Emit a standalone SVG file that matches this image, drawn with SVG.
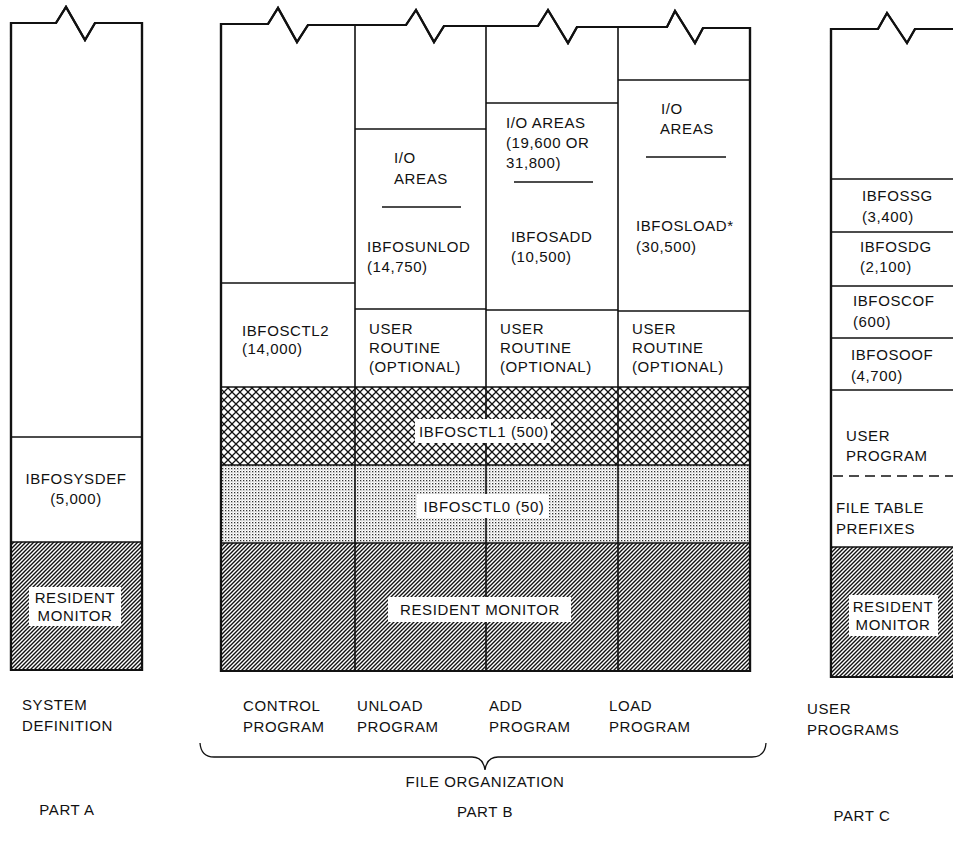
<svg xmlns="http://www.w3.org/2000/svg" width="953" height="844" viewBox="0 0 953 844">
<defs>
<pattern id="hatch" patternUnits="userSpaceOnUse" width="4" height="4">
<rect width="4" height="4" fill="#fff"/>
<path d="M-1,5 L5,-1 M-3,3 L3,-3 M1,7 L7,1" stroke="#111" stroke-width="1.4"/>
</pattern>
<pattern id="cross" patternUnits="userSpaceOnUse" width="8" height="8">
<rect width="8" height="8" fill="#fff"/>
<path d="M-1,-1 L9,9 M9,-1 L-1,9" stroke="#111" stroke-width="1.3"/>
</pattern>
<pattern id="dots" patternUnits="userSpaceOnUse" width="3" height="3">
<rect width="3" height="3" fill="#fff"/>
<rect x="0" y="0" width="1.3" height="1.3" fill="#333"/>
<rect x="1.5" y="1.5" width="0.9" height="0.9" fill="#888"/>
</pattern>
</defs>
<style>
text{font-family:"Liberation Sans",Arial,sans-serif;font-size:15px;fill:#111;letter-spacing:0.6px}
.m{text-anchor:middle}
.frame{fill:#fff;stroke:#111;stroke-width:2.2;stroke-linejoin:miter}
.ln{stroke:#111;stroke-width:1.6;fill:none}
.thin{stroke:#111;stroke-width:1.3;fill:none}
.lbl{fill:#fff;stroke:none}
.h{fill:url(#hatch)}
.c{fill:url(#cross)}
.d{fill:url(#dots)}
</style>
<rect width="953" height="844" fill="#fff"/>

<!-- PART A -->
<g id="partA">
<path class="frame" d="M11,23 L56,23 L66,7 L85,40 L95,23 L142,23 L142,670 L11,670 Z"/>
<g id="a-sysdef">
<line class="ln" x1="11" y1="437" x2="142" y2="437"/>
<text class="m" x="76" y="484">IBFOSYSDEF</text>
<text class="m" x="76" y="504">(5,000)</text>
</g>
<g id="a-monitor">
<rect class="h" x="12" y="542" width="129" height="127"/>
<line class="ln" x1="11" y1="542" x2="142" y2="542"/>
<rect class="lbl" x="29" y="587" width="92" height="39"/>
<text class="m" x="75" y="603">RESIDENT</text>
<text class="m" x="75" y="621">MONITOR</text>
</g>
<path class="frame" style="fill:none" d="M11,23 L56,23 L66,7 L85,40 L95,23 L142,23 L142,670 L11,670 Z"/>
</g>

<!-- PART B -->
<g id="partB">
<path class="frame" d="M221,24 L268,24 L278,8 L297,42 L308,25 L406,25 L416,10 L434,42 L444,26 L538,26 L548,10 L568,43 L577,27 L667,27 L675,11 L695,43 L703,28 L750,28 L750,671 L221,671 Z"/>
<g id="b-ctl1">
<rect class="c" x="222" y="387" width="527" height="78"/>
</g>
<g id="b-ctl0">
<rect class="d" x="222" y="465" width="527" height="78"/>
</g>
<g id="b-monitor">
<rect class="h" x="222" y="543" width="527" height="127"/>
</g>
<line class="ln" x1="221" y1="387" x2="750" y2="387"/>
<line class="ln" x1="221" y1="465" x2="750" y2="465"/>
<line class="ln" x1="221" y1="543" x2="750" y2="543"/>
<line class="ln" x1="355" y1="25" x2="355" y2="671"/>
<line class="ln" x1="486" y1="26" x2="486" y2="671"/>
<line class="ln" x1="618" y1="27" x2="618" y2="671"/>

<g id="b-ctl1-label">
<rect class="lbl" x="415" y="419" width="136" height="24"/>
<text class="m" x="484" y="437">IBFOSCTL1 (500)</text>
</g>
<g id="b-ctl0-label">
<rect class="lbl" x="417" y="494" width="132" height="24"/>
<text class="m" x="484" y="512">IBFOSCTL0 (50)</text>
</g>
<g id="b-monitor-label">
<rect class="lbl" x="388" y="597" width="183" height="25"/>
<text class="m" x="480" y="615">RESIDENT MONITOR</text>
</g>

<g id="b-ctl2">
<line class="ln" x1="221" y1="283" x2="355" y2="283"/>
<text x="242" y="336">IBFOSCTL2</text>
<text x="242" y="354">(14,000)</text>
</g>

<g id="b-unload-io">
<line class="ln" x1="355" y1="129" x2="486" y2="129"/>
<text x="394" y="163">I/O</text>
<text x="394" y="184">AREAS</text>
<line class="thin" x1="382" y1="207" x2="461" y2="207"/>
</g>
<g id="b-unlod">
<text x="367" y="252">IBFOSUNLOD</text>
<text x="367" y="272">(14,750)</text>
</g>
<g id="b-unload-user">
<line class="ln" x1="355" y1="309" x2="486" y2="309"/>
<text x="369" y="334">USER</text>
<text x="369" y="353">ROUTINE</text>
<text x="369" y="372">(OPTIONAL)</text>
</g>

<g id="b-add-io">
<line class="ln" x1="486" y1="103" x2="618" y2="103"/>
<text x="506" y="128">I/O AREAS</text>
<text x="506" y="148">(19,600 OR</text>
<text x="506" y="168">31,800)</text>
<line class="thin" x1="514" y1="182" x2="593" y2="182"/>
</g>
<g id="b-add">
<text x="511" y="242">IBFOSADD</text>
<text x="511" y="262">(10,500)</text>
</g>
<g id="b-add-user">
<line class="ln" x1="486" y1="310" x2="618" y2="310"/>
<text x="500" y="334">USER</text>
<text x="500" y="353">ROUTINE</text>
<text x="500" y="372">(OPTIONAL)</text>
</g>

<g id="b-load-io">
<line class="ln" x1="618" y1="80" x2="750" y2="80"/>
<text x="661" y="114">I/O</text>
<text x="660" y="134">AREAS</text>
<line class="thin" x1="646" y1="157" x2="726" y2="157"/>
</g>
<g id="b-load">
<text x="636" y="231">IBFOSLOAD*</text>
<text x="636" y="252">(30,500)</text>
</g>
<g id="b-load-user">
<line class="ln" x1="618" y1="311" x2="750" y2="311"/>
<text x="632" y="334">USER</text>
<text x="632" y="353">ROUTINE</text>
<text x="632" y="372">(OPTIONAL)</text>
</g>
<path class="frame" style="fill:none" d="M221,24 L268,24 L278,8 L297,42 L308,25 L406,25 L416,10 L434,42 L444,26 L538,26 L548,10 L568,43 L577,27 L667,27 L675,11 L695,43 L703,28 L750,28 L750,671 L221,671 Z"/>
</g>

<!-- PART C -->
<g id="partC">
<path class="frame" d="M831,29 L878,29 L887,13 L907,43 L915,29 L960,29 L960,677 L831,677 Z"/>
<g id="c-ssg">
<line class="ln" x1="831" y1="179" x2="953" y2="179"/>
<text x="862" y="201">IBFOSSG</text>
<text x="862" y="222">(3,400)</text>
</g>
<g id="c-sdg">
<line class="ln" x1="831" y1="232" x2="953" y2="232"/>
<text x="860" y="252">IBFOSDG</text>
<text x="860" y="272">(2,100)</text>
</g>
<g id="c-scof">
<line class="ln" x1="831" y1="286" x2="953" y2="286"/>
<text x="853" y="306">IBFOSCOF</text>
<text x="853" y="327">(600)</text>
</g>
<g id="c-soof">
<line class="ln" x1="831" y1="338" x2="953" y2="338"/>
<text x="851" y="360">IBFOSOOF</text>
<text x="851" y="381">(4,700)</text>
</g>
<g id="c-user">
<line class="ln" x1="831" y1="390" x2="953" y2="390"/>
<text x="846" y="441">USER</text>
<text x="846" y="461">PROGRAM</text>
</g>
<g id="c-prefix">
<line class="thin" x1="833" y1="476" x2="953" y2="476" stroke-dasharray="10,6"/>
<text x="836" y="513">FILE TABLE</text>
<text x="836" y="534">PREFIXES</text>
</g>
<g id="c-monitor">
<rect class="h" x="832" y="547" width="125" height="129"/>
<line class="ln" x1="831" y1="547" x2="953" y2="547"/>
<rect class="lbl" x="849" y="595" width="89" height="41"/>
<text class="m" x="893" y="612">RESIDENT</text>
<text class="m" x="893" y="630">MONITOR</text>
</g>
<path class="frame" style="fill:none" d="M831,29 L878,29 L887,13 L907,43 L915,29 L960,29 L960,677 L831,677 Z"/>
</g>

<!-- captions -->
<g id="captions">
<text x="22" y="710">SYSTEM</text>
<text x="22" y="731">DEFINITION</text>
<text x="243" y="711">CONTROL</text>
<text x="243" y="732">PROGRAM</text>
<text x="357" y="711">UNLOAD</text>
<text x="357" y="732">PROGRAM</text>
<text x="489" y="711">ADD</text>
<text x="489" y="732">PROGRAM</text>
<text x="609" y="711">LOAD</text>
<text x="609" y="732">PROGRAM</text>
<text x="807" y="714">USER</text>
<text x="807" y="735">PROGRAMS</text>
<text class="m" x="485" y="787">FILE ORGANIZATION</text>
<text class="m" x="67" y="815">PART A</text>
<text class="m" x="485" y="817">PART B</text>
<text class="m" x="862" y="821">PART C</text>
</g>
<g id="brace">
<path class="thin" d="M200,743 Q201,757 214,757 L472,757 Q483,757 485,770 Q487,757 498,757 L752,757 Q765,757 766,743"/>
</g>
</svg>
